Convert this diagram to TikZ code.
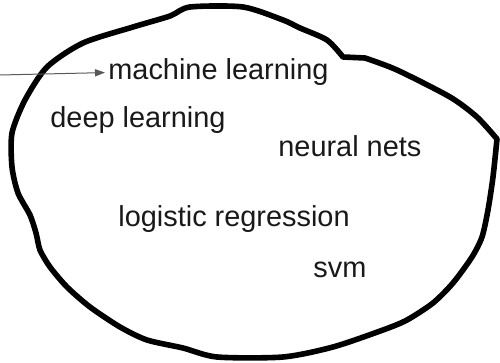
\documentclass[tikz,border=0pt]{standalone}
\usepackage{fontspec}
\setmainfont{Liberation Sans}
\usetikzlibrary{arrows.meta}
\begin{document}
\begin{tikzpicture}[x=0.5pt,y=-0.5pt,
  term/.style={inner sep=0pt, anchor=base west, text=black!90,
    font=\fontsize{14.45}{17}\selectfont},
  outline/.style={line width=2.8pt, line join=round, draw=black},
  pointer/.style={draw=black!65, line width=0.5pt,
    -{Triangle[length=5pt,width=3.6pt]}, shorten >=1.5pt}]
\useasboundingbox (0,0) rectangle (500,363);

% hand-drawn region enclosing the terms: three smooth strokes meeting at
% the two sharp corners (top notch and right tip)
\draw[outline]
  plot[smooth, tension=0.45] coordinates {
    (365,58) (397,70) (450,97) (477,117) (497,139)}
  -- plot[smooth, tension=0.45] coordinates {
    (497,139) (493,177) (488,210) (482,237) (472,257) (453,283)
    (433,303) (407,320) (383,330) (333,347) (283,357) (217,357)
    (183,348) (147,340) (120,327) (90,307) (67,287) (50,267)
    (40,250) (36,233) (30,215) (18,193) (12,167) (12,133)
    (25,100) (47,67) (83,43) (133,27) (170,16) (190,7) (243,7)
    (283,20) (300,28) (327,40) (343,57)}
  -- cycle;

% terms
\node[term] (ml)  at (108,80)  {machine learning};
\node[term] (dl)  at (50,128)  {deep learning};
\node[term] (nn)  at (278,157) {neural nets};
\node[term] (lr)  at (118,227) {logistic regression};
\node[term] (svm) at (313,278) {svm};

% pointer entering from the left edge
\coordinate (src) at (0,75);
\draw[pointer] (src) -- (ml.west);
\end{tikzpicture}
\end{document}
